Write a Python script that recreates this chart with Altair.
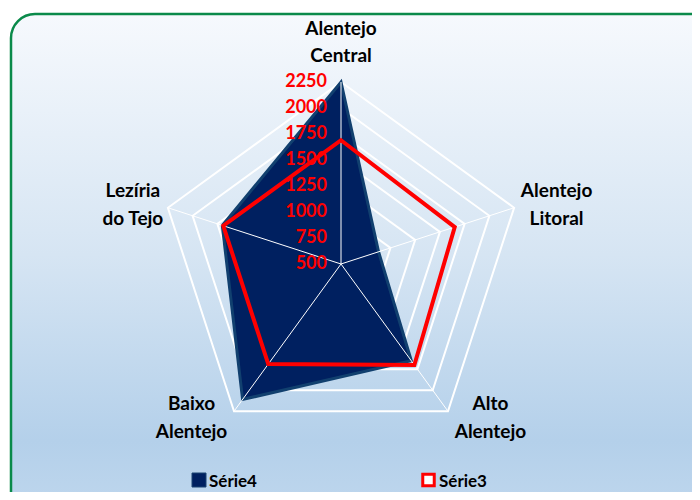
import altair as alt
import pandas as pd

# ---------------- data ----------------
categories = ["Alentejo Central", "Alentejo Litoral", "Alto Alentejo", "Baixo Alentejo", "Lezíria do Tejo"]
label_lines = ["Alentejo\nCentral", "Alentejo\nLitoral", "Alto\nAlentejo", "Baixo\nAlentejo", "Lezíria\ndo Tejo"]
serie4 = [2250, 880, 1650, 2110, 1700]
serie3 = [1690, 1650, 1700, 1690, 1690]
ticks = [500, 750, 1000, 1250, 1500, 1750, 2000, 2250]
series_names = ["Série4", "Série3"]

# ---------------- layout ----------------
W, H = 684, 484
CX, CY = 333, 256          # centre of the radar in chart pixels
RPX = 182                  # pixel radius of the outer ring
RMIN, RMAX = ticks[0], ticks[-1]
U = (RMAX - RMIN) / RPX    # data units per pixel
LH = 27.6                  # category label line height

xscale = alt.Scale(domain=[-CX * U, (W - CX) * U], nice=False, zero=False)
yscale = alt.Scale(domain=[-(H - CY) * U, CY * U], nice=False, zero=False)
X = alt.X("x:Q", scale=xscale, axis=None)
Y = alt.Y("y:Q", scale=yscale, axis=None)

FONT = "Lato"
NAVY = "#002060"

cat_df = pd.DataFrame({"cat": categories, "label": label_lines, "idx": list(range(len(categories))),
                       "s4": serie4, "s3": serie3})
N = len(categories)


def polar(ch, rexpr):
    return (ch.transform_calculate(ang=f"PI/2 - 2*PI*datum.idx/{N}")
              .transform_calculate(r=rexpr)
              .transform_calculate(x="datum.r*cos(datum.ang)", y="datum.r*sin(datum.ang)"))


# background frame
bg = alt.Chart(pd.DataFrame({"a": [0]})).mark_rect(
    cornerRadius=24,
    stroke="#0a8a4a",
    strokeWidth=2.5,
    color=alt.LinearGradient(
        gradient="linear",
        stops=[alt.GradientStop(color="#f6f9fd", offset=0),
               alt.GradientStop(color="#d6e5f3", offset=0.45),
               alt.GradientStop(color="#b4d0ea", offset=0.8),
               alt.GradientStop(color="#c4daef", offset=1)],
        x1=0, x2=0, y1=0, y2=1),
).encode(x=alt.value(3), x2=alt.value(740), y=alt.value(6), y2=alt.value(540))

# rings
ring_rows = [{"tick": t, "idx": i} for t in ticks[1:] for i in range(N)]
rings = polar(alt.Chart(pd.DataFrame(ring_rows)), f"datum.tick - {RMIN}").mark_line(
    interpolate="linear-closed", color="white", strokeWidth=2
).encode(x=X, y=Y, detail="tick:Q", order="idx:Q")

# Série4 filled polygon
poly4 = polar(alt.Chart(cat_df), f"datum.s4 - {RMIN}").mark_line(
    interpolate="linear-closed", fill=NAVY, stroke="#11406f", strokeWidth=3, strokeJoin="miter"
).encode(x=X, y=Y, order="idx:Q")

# spokes
spokes = polar(alt.Chart(cat_df), f"{RMAX - RMIN}").transform_calculate(x0="0", y0="0").mark_rule(
    color="white", strokeWidth=1
).encode(x=X, y=Y, x2="x0:Q", y2="y0:Q")

# Série3 red outline
line3 = polar(alt.Chart(cat_df), f"datum.s3 - {RMIN}").mark_line(
    interpolate="linear-closed", color="#ff0000", strokeWidth=4, strokeJoin="miter"
).encode(x=X, y=Y, order="idx:Q")

# radial tick labels
tick_lbl = alt.Chart(pd.DataFrame({"tick": ticks})).transform_calculate(
    x="0", y=f"datum.tick - {RMIN}"
).mark_text(
    align="right", baseline="middle", dx=-14, color="#ff0000", font=FONT, fontWeight="bold", fontSize=18
).encode(x=X, y=Y, text="tick:Q")

# category labels: placed just outside each outer vertex
cat_lbl = polar(alt.Chart(cat_df), f"{RMAX - RMIN}").transform_calculate(
    lx=(f"datum.x + (abs(cos(datum.ang)) < 0.1 ? 0 : "
        f"(cos(datum.ang) > 0 ? 42.5*{U} : (sin(datum.ang) > 0 ? -35*{U} : -42.5*{U})))"),
    ly=f"datum.y + (sin(datum.ang) > 0.9 ? 39.5*{U} : (sin(datum.ang) > 0 ? 2.5*{U} : -6.5*{U}))",
).mark_text(
    align="center", baseline="middle", lineBreak="\n", lineHeight=LH, dy=-LH / 2,
    font=FONT, fontWeight="bold", fontSize=19, color="black"
).encode(x=alt.X("lx:Q", scale=xscale, axis=None), y=alt.Y("ly:Q", scale=yscale, axis=None), text="label:N")

# legend
leg4_sym = alt.Chart(pd.DataFrame({"name": [series_names[0]]})).mark_point(
    shape="square", filled=True, size=196, fill=NAVY, stroke="#1b4270", strokeWidth=1, opacity=1
).encode(x=alt.value(191), y=alt.value(472))
leg4_txt = alt.Chart(pd.DataFrame({"name": [series_names[0]]})).mark_text(
    align="left", baseline="middle", font=FONT, fontWeight="bold", fontSize=17, color="black"
).encode(x=alt.value(201), y=alt.value(474), text="name:N")
leg3_sym = alt.Chart(pd.DataFrame({"name": [series_names[1]]})).mark_point(
    shape="square", filled=False, size=132, fill="white", fillOpacity=1, stroke="#ff0000", strokeWidth=3, opacity=1
).encode(x=alt.value(420.5), y=alt.value(472))
leg3_txt = alt.Chart(pd.DataFrame({"name": [series_names[1]]})).mark_text(
    align="left", baseline="middle", font=FONT, fontWeight="bold", fontSize=17, color="black"
).encode(x=alt.value(431), y=alt.value(474), text="name:N")

chart = alt.layer(
    bg, rings, poly4, spokes, line3, tick_lbl, cat_lbl, leg4_sym, leg4_txt, leg3_sym, leg3_txt
).properties(
    width=W, height=H, autosize=alt.AutoSizeParams(type="none"), padding=0
).configure_view(stroke=None)

chart.save("out.html", embed_options={"renderer": "svg", "actions": False})
